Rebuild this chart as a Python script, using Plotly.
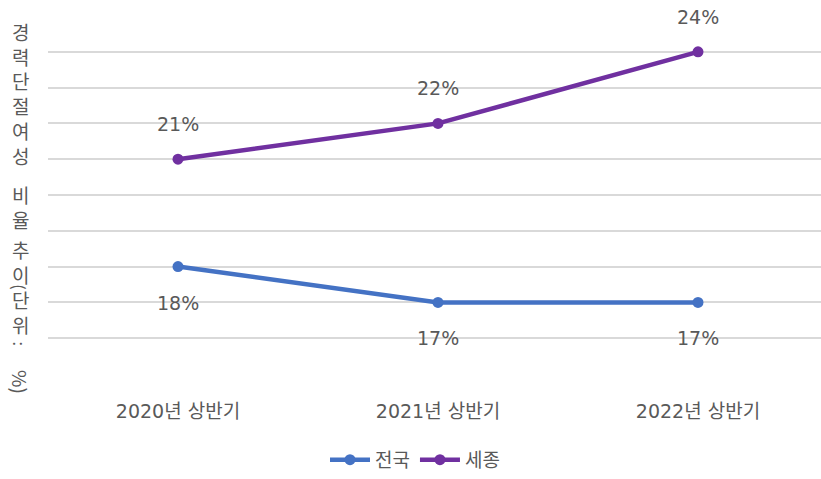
import plotly.graph_objects as go

categories = ["2020년 상반기", "2021년 상반기", "2022년 상반기"]
national = [18, 17, 17]
sejong = [21, 22, 24]
national_labels = ["18%", "17%", "17%"]
sejong_labels = ["21%", "22%", "24%"]
series_names = ["전국", "세종"]
title_text = "경력단절여성 비율 추이(단위: %)"

FONT = "DejaVu Sans, Noto Sans CJK KR, sans-serif"
TXT = "#595959"
BLUE = "#4472C4"
PURPLE = "#7030A0"

W, H = 821, 479
L, R, T, B = 48, 0, 16, 100
plot_h = H - T - B
plot_w = W - L - R

fig = go.Figure()
fig.add_trace(go.Scatter(x=categories, y=national, name=series_names[0], mode="lines+markers",
                         line=dict(color=BLUE, width=4.5), marker=dict(size=11, color=BLUE)))
fig.add_trace(go.Scatter(x=categories, y=sejong, name=series_names[1], mode="lines+markers",
                         line=dict(color=PURPLE, width=4.5), marker=dict(size=11, color=PURPLE)))

ann = []
for c, v, t in zip(categories, sejong, sejong_labels):
    ann.append(dict(x=c, y=v, text=t, showarrow=False, yshift=35,
                    font=dict(size=19, color=TXT, family=FONT)))
for c, v, t in zip(categories, national, national_labels):
    ann.append(dict(x=c, y=v, text=t, showarrow=False, yshift=-36,
                    font=dict(size=19, color=TXT, family=FONT)))

# vertical (stacked) axis title, split into runs
words = title_text.replace("(", " ( ").replace(":", " : ").split()
# words -> ['경력단절여성', '비율', '추이', '(', '단위', ':', '%)']
centers = [95, 209.5, 265, 290, 316, 348, 387]
for w, yp in zip(words, centers):
    rot = all(ch in "()%:" for ch in w)
    txt = w if rot else "<br>".join(list(w))
    ann.append(dict(xref="paper", yref="paper", x=(20 - L) / plot_w, y=(H - B - yp) / plot_h,
                    text=txt, showarrow=False, xanchor="center", yanchor="middle",
                    textangle=90 if rot else 0, borderpad=0,
                    font=dict(size=19 if len(w) > 1 else 16, color=TXT,
                              family="Noto Sans CJK KR, sans-serif")))

fig.update_layout(
    width=W, height=H,
    margin=dict(l=L, r=R, t=T, b=B),
    paper_bgcolor="white", plot_bgcolor="white",
    font=dict(family=FONT, color=TXT, size=19),
    showlegend=True,
    legend=dict(orientation="h", x=(415 - L) / plot_w, xanchor="center",
                y=(H - B - 466) / plot_h, yanchor="middle",
                font=dict(size=19, color=TXT, family=FONT), itemwidth=40),
    annotations=ann,
    xaxis=dict(type="category", range=[-0.5, -0.5 + plot_w / 260], showgrid=False,
               zeroline=False, showline=False, ticks="", ticklabelstandoff=24,
               tickfont=dict(size=19, color=TXT, family=FONT)),
    yaxis=dict(range=[15, 25], dtick=1, showgrid=True, gridcolor="#d9d9d9", gridwidth=1.5,
               showticklabels=False, zeroline=False, showline=False, ticks=""),
)

fig.write_html("out.html", config={"displayModeBar": False},
               post_script="document.body.style.margin='0';document.body.style.overflow='hidden';")
